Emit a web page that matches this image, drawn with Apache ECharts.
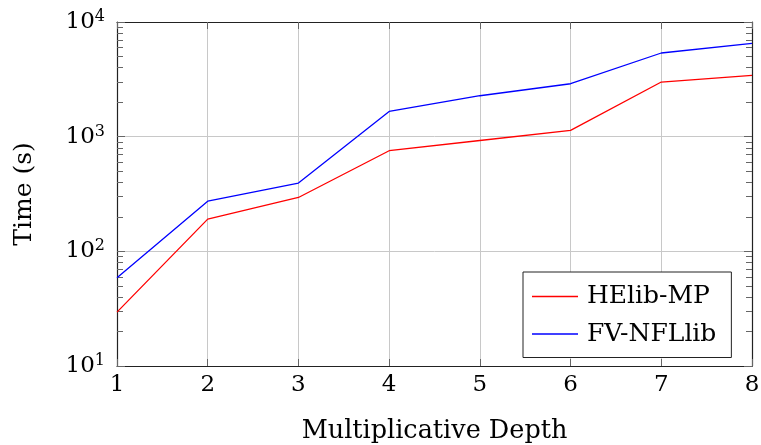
<!DOCTYPE html>
<html>
<head>
<meta charset="utf-8">
<script src="https://cdn.jsdelivr.net/npm/echarts@6/dist/echarts.min.js"></script>
<style>html,body{margin:0;padding:0;background:#fff;}#c{width:761px;height:445px;}</style>
</head>
<body>
<div id="c"></div>
<script>
const depths = [1, 2, 3, 4, 5, 6, 7, 8];
const helibMP = [29.5, 191, 295, 754, 926, 1133, 2995, 3420];
const fvNFLlib = [58.7, 274, 394, 1660, 2275, 2895, 5365, 6505];
const seriesNames = ['HElib-MP', 'FV-NFLlib'];
const yMajorTicks = [10, 100, 1000, 10000];
const yMinorTicks = [20,30,40,50,60,70,80,90,200,300,400,500,600,700,800,900,2000,3000,4000,5000,6000,7000,8000,9000];
const xTitle = 'Multiplicative Depth';
const yTitle = 'Time (s)';

const FONT = 'DejaVu Serif';
const chart = echarts.init(document.getElementById('c'), null, {renderer: 'canvas'});

function supLabel(v) {
  const e = Math.round(Math.log10(v));
  return '{b|10}{s|' + e + '}';
}

const axisColor = '#222';
const gridColor = '#c8c8c8';

function yAxisBase(pos, ticks, tickLen, showLine) {
  return {
    type: 'log', logBase: 10, min: 10, max: 10000, position: pos,
    axisLine: {show: showLine, lineStyle: {color: axisColor, width: 1.2}},
    axisTick: {show: true, inside: true, length: tickLen, customValues: ticks, lineStyle: {color: '#666', width: 1}},
    axisLabel: {show: false},
    splitLine: {show: false},
    minorTick: {show: false}
  };
}

const yMain = yAxisBase('left', yMajorTicks, 8, true);
yMain.splitLine = {show: true, lineStyle: {color: gridColor, width: 1}};
yMain.axisLabel = {
  show: true, margin: 12, customValues: yMajorTicks,
  formatter: supLabel,
  rich: {
    b: {fontFamily: FONT, fontSize: 23, color: '#000'},
    s: {fontFamily: FONT, fontSize: 16, color: '#000', verticalAlign: 'top', padding: [0, 0, 10, 0]}
  }
};
yMain.name = yTitle;
yMain.nameLocation = 'middle';
yMain.nameGap = 80;
yMain.nameTextStyle = {fontFamily: FONT, fontSize: 25, color: '#000'};

const option = {
  animation: false,
  backgroundColor: '#fff',
  grid: {left: 117, right: 9, top: 22, bottom: 79, containLabel: false, outerBoundsMode: 'none'},
  legend: {
    data: seriesNames,
    orient: 'vertical',
    left: 523, top: 272,
    backgroundColor: '#fff',
    borderColor: '#222', borderWidth: 1,
    padding: [12, 15, 11, 9],
    icon: 'rect',
    itemWidth: 46, itemHeight: 1.4, itemGap: 12.5,
    textStyle: {fontFamily: FONT, fontSize: 25, color: '#000', padding: [0, 0, 0, 4]}
  },
  xAxis: [
    {
      type: 'value', min: 1, max: 8, interval: 1, position: 'bottom',
      name: xTitle, nameLocation: 'middle', nameGap: 52,
      nameTextStyle: {fontFamily: FONT, fontSize: 25.5, color: '#000'},
      axisLine: {show: true, lineStyle: {color: axisColor, width: 1.2}},
      axisTick: {show: true, inside: true, length: 7, lineStyle: {color: '#666'}},
      axisLabel: {fontFamily: FONT, fontSize: 23, color: '#000', margin: 8},
      splitLine: {show: true, lineStyle: {color: gridColor, width: 1}}
    },
    {
      type: 'value', min: 1, max: 8, interval: 1, position: 'top',
      axisLine: {show: true, lineStyle: {color: axisColor, width: 1.2}},
      axisTick: {show: true, inside: true, length: 7, lineStyle: {color: '#666'}},
      axisLabel: {show: false},
      splitLine: {show: false}
    }
  ],
  yAxis: [
    yMain,
    yAxisBase('left', yMinorTicks, 6, false),
    yAxisBase('right', yMajorTicks, 8, true),
    yAxisBase('right', yMinorTicks, 6, false)
  ],
  series: [
    {
      name: seriesNames[0], type: 'line', symbol: 'none', xAxisIndex: 0, yAxisIndex: 0,
      data: depths.map((d, i) => [d, helibMP[i]]),
      lineStyle: {color: '#ff0000', width: 1.3}, itemStyle: {color: '#ff0000'}
    },
    {
      name: seriesNames[1], type: 'line', symbol: 'none', xAxisIndex: 0, yAxisIndex: 0,
      data: depths.map((d, i) => [d, fvNFLlib[i]]),
      lineStyle: {color: '#0000ff', width: 1.3}, itemStyle: {color: '#0000ff'}
    }
  ]
};
chart.setOption(option);
</script>
</body>
</html>
